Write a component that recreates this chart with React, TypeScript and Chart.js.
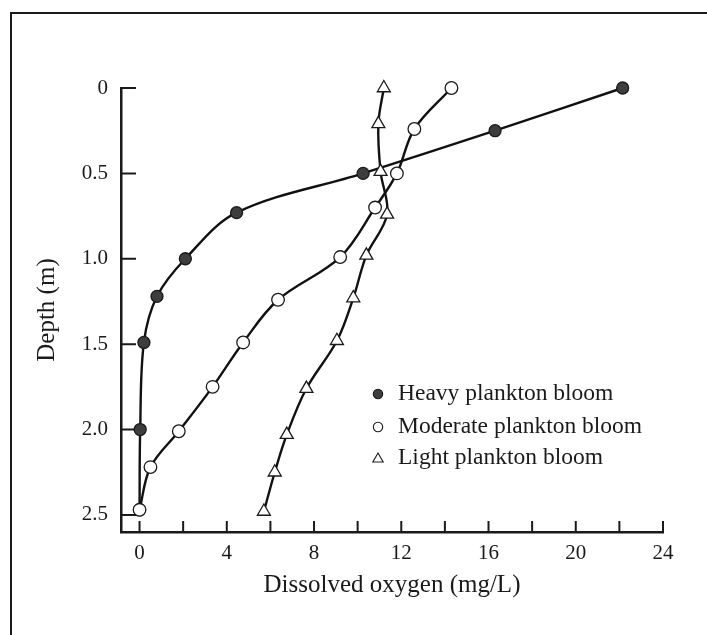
import React, { useEffect, useRef } from 'react';
import { Chart, registerables } from 'chart.js';

Chart.register(...registerables);

// ---- data ----
const SERIES_LABELS = ['Heavy plankton bloom', 'Moderate plankton bloom', 'Light plankton bloom'];

const DEPTH_HEAVY = [0, 0.25, 0.5, 0.73, 1.0, 1.22, 1.49, 2.0, 2.47];
const OXY_HEAVY = [22.15, 16.3, 10.25, 4.45, 2.1, 0.8, 0.2, 0.03, 0.0];

const DEPTH_MODERATE = [0, 0.24, 0.5, 0.7, 0.99, 1.24, 1.49, 1.75, 2.01, 2.22, 2.47];
const OXY_MODERATE = [14.3, 12.6, 11.8, 10.8, 9.2, 6.35, 4.75, 3.35, 1.8, 0.5, 0.0];

const DEPTH_LIGHT = [0, 0.21, 0.49, 0.74, 0.98, 1.23, 1.48, 1.76, 2.03, 2.25, 2.48];
const OXY_LIGHT = [11.2, 10.95, 11.05, 11.35, 10.4, 9.8, 9.05, 7.65, 6.75, 6.2, 5.7];

const X_TICKS = [0, 2, 4, 6, 8, 10, 12, 14, 16, 18, 20, 22, 24];
const Y_TICKS = [0, 0.5, 1.0, 1.5, 2.0, 2.5];

const X_TITLE = 'Dissolved oxygen (mg/L)';
const Y_TITLE = 'Depth (m)';

// ---- styles ----
const FONT = "'Liberation Serif', 'Times New Roman', serif";
const INK = '#1a1a1a';

const toPoints = (xs: number[], ys: number[]) => xs.map((x, i) => ({ x, y: ys[i] }));

const inwardTicks = {
  id: 'inwardTicks',
  beforeDatasetsDraw(chart: any) {
    const { ctx, chartArea, scales } = chart;
    const xs = scales.x;
    const ys = scales.y;
    ctx.save();
    ctx.strokeStyle = INK;
    ctx.lineWidth = 2;
    ctx.beginPath();
    xs.ticks.forEach((t: any) => {
      const px = xs.getPixelForValue(t.value);
      ctx.moveTo(px, chartArea.bottom);
      ctx.lineTo(px, chartArea.bottom - 11);
    });
    ys.ticks.forEach((t: any) => {
      const py = ys.getPixelForValue(t.value);
      ctx.moveTo(chartArea.left, py);
      ctx.lineTo(chartArea.left + 15, py);
    });
    ctx.stroke();
    ctx.restore();
  },
};

const insideLegend = {
  id: 'insideLegend',
  afterDraw(chart: any) {
    const { ctx, chartArea } = chart;
    const mx = chartArea.left + 257;
    const tx = chartArea.left + 277;
    const rows = [306, 339, 370];
    ctx.save();
    ctx.font = `23.5px ${FONT}`;
    ctx.textBaseline = 'middle';
    ctx.textAlign = 'left';
    ctx.fillStyle = INK;
    ctx.strokeStyle = INK;
    chart.data.datasets.forEach((ds: any, i: number) => {
      const y = chartArea.top + rows[i];
      ctx.beginPath();
      if (ds.pointStyle === 'triangle') {
        const r = 6;
        for (let k = 0; k < 3; k++) {
          const a = (k * 2 * Math.PI) / 3;
          const px = mx + Math.sin(a) * r;
          const py = y - Math.cos(a) * r + 1;
          if (k === 0) ctx.moveTo(px, py);
          else ctx.lineTo(px, py);
        }
        ctx.closePath();
      } else {
        ctx.arc(mx, y, 4.7, 0, Math.PI * 2);
      }
      ctx.fillStyle = ds.pointBackgroundColor;
      ctx.fill();
      ctx.lineWidth = 1.1;
      ctx.stroke();
      ctx.fillStyle = INK;
      ctx.fillText(ds.label, tx, y);
    });
    ctx.restore();
  },
};

export default function App() {
  const ref = useRef<HTMLCanvasElement>(null);

  useEffect(() => {
    if (!ref.current) return;
    const common = {
      borderColor: '#111',
      borderWidth: 2.4,
      tension: 0.35,
      fill: false,
      clip: false as any,
      pointBorderColor: INK,
    };
    const chart = new Chart(ref.current, {
      type: 'line',
      data: {
        datasets: [
          {
            ...common,
            label: SERIES_LABELS[0],
            data: toPoints(OXY_HEAVY, DEPTH_HEAVY),
            pointStyle: 'circle',
            pointRadius: 6,
            pointBackgroundColor: '#3d3d3d',
            pointBorderWidth: 1.3,
            order: 2,
          },
          {
            ...common,
            label: SERIES_LABELS[1],
            data: toPoints(OXY_MODERATE, DEPTH_MODERATE),
            pointStyle: 'circle',
            pointRadius: 6.3,
            pointBackgroundColor: '#ffffff',
            pointBorderWidth: 1.3,
            order: 0,
          },
          {
            ...common,
            label: SERIES_LABELS[2],
            data: toPoints(OXY_LIGHT, DEPTH_LIGHT),
            pointStyle: 'triangle',
            pointRadius: 7.5,
            pointBackgroundColor: '#ffffff',
            pointBorderWidth: 1.3,
            order: 1,
          },
        ],
      },
      options: {
        animation: false,
        responsive: false,
        devicePixelRatio: 1,
        layout: { padding: { top: 88, right: 44, left: 0, bottom: 0 } },
        plugins: {
          legend: { display: false },
          tooltip: { enabled: false },
        },
        scales: {
          x: {
            type: 'linear',
            min: -0.85,
            max: 24,
            afterBuildTicks: (s: any) => {
              s.ticks = X_TICKS.map((value) => ({ value }));
            },
            afterFit: (s: any) => {
              s.height = 103;
            },
            grid: { display: false, drawTicks: false },
            border: { display: true, color: INK, width: 2.5 },
            ticks: {
              padding: 9,
              color: INK,
              font: { family: FONT, size: 21 },
              maxRotation: 0,
              autoSkip: false,
              callback: (v: any) => (Number(v) % 4 === 0 ? String(v) : ''),
            },
            title: {
              display: true,
              text: X_TITLE,
              color: INK,
              font: { family: FONT, size: 25 },
              padding: { top: 0, bottom: 35 },
            },
          },
          y: {
            type: 'linear',
            reverse: true,
            min: 0,
            max: 2.6,
            afterBuildTicks: (s: any) => {
              s.ticks = Y_TICKS.map((value) => ({ value }));
            },
            afterFit: (s: any) => {
              s.width = 121;
            },
            grid: { display: false, drawTicks: false },
            border: { display: true, color: INK, width: 2.5 },
            ticks: {
              padding: 13,
              color: INK,
              font: { family: FONT, size: 21 },
              autoSkip: false,
              callback: (v: any) => (Number(v) === 0 ? '0' : Number(v).toFixed(1)),
            },
            title: {
              display: true,
              text: Y_TITLE,
              color: INK,
              font: { family: FONT, size: 25 },
              padding: { top: 32, bottom: 0 },
            },
          },
        },
      },
      plugins: [inwardTicks, insideLegend],
    } as any);
    return () => chart.destroy();
  }, []);

  return (
    <div
      style={{
        position: 'fixed',
        left: 0,
        top: 0,
        width: 707,
        height: 635,
        background: '#ffffff',
        overflow: 'hidden',
      }}
    >
      <div
        style={{
          position: 'absolute',
          left: 10,
          top: 12,
          width: 720,
          height: 640,
          borderTop: `2px solid ${INK}`,
          borderLeft: `2px solid ${INK}`,
        }}
      />
      <canvas ref={ref} width={707} height={635} style={{ position: 'absolute', left: 0, top: 0 }} />
    </div>
  );
}
